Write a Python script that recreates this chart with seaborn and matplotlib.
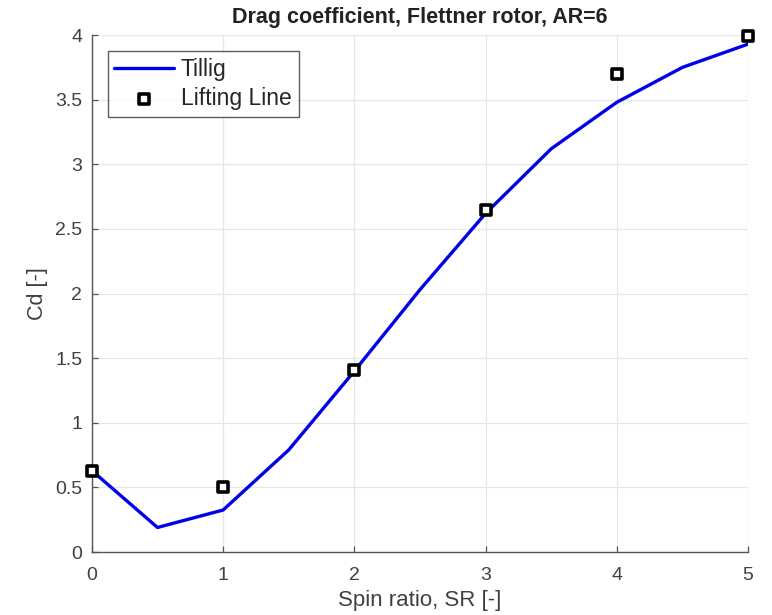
import numpy as np
import pandas as pd
import matplotlib
matplotlib.use("Agg")
import matplotlib.pyplot as plt
import seaborn as sns

tillig_sr = [0, 0.5, 1, 1.5, 2, 2.5, 3, 3.5, 4, 4.5, 5]
tillig_cd = [0.63, 0.19, 0.325, 0.79, 1.40, 2.03, 2.62, 3.12, 3.48, 3.75, 3.93]
ll_sr = [0, 1, 2, 3, 4, 5]
ll_cd = [0.63, 0.50, 1.41, 2.65, 3.70, 3.99]

sns.set_theme(style="white")
plt.rcParams['font.family'] = ['Liberation Sans', 'DejaVu Sans']

fig = plt.figure(figsize=(7.72, 6.15), dpi=100)
ax = fig.add_axes([0.119, 0.1024, 0.850, 0.8406])

df_t = pd.DataFrame({"SR": tillig_sr, "Cd": tillig_cd})
df_l = pd.DataFrame({"SR": ll_sr, "Cd": ll_cd})

sns.lineplot(data=df_t, x="SR", y="Cd", ax=ax, color="#0000e6", linewidth=2.4,
             label="Tillig", zorder=3)
sns.scatterplot(data=df_l, x="SR", y="Cd", ax=ax, marker="s", s=52,
                facecolor="white", edgecolor="black", linewidth=2.6,
                label="Lifting Line", zorder=4, clip_on=False)

ax.set_xlim(0, 5)
ax.set_ylim(0, 4)
ax.set_xticks([0, 1, 2, 3, 4, 5])
ax.set_yticks([0, 0.5, 1, 1.5, 2, 2.5, 3, 3.5, 4])
ax.set_yticklabels(["0", "0.5", "1", "1.5", "2", "2.5", "3", "3.5", "4"])
ax.grid(True, color="#e6e6e6", linewidth=0.9)
for s in ["top", "right"]:
    ax.spines[s].set_visible(False)
for s in ["left", "bottom"]:
    ax.spines[s].set_color("#555555")
    ax.spines[s].set_linewidth(1.0)
ax.tick_params(axis="both", direction="in", length=4, width=0.9, color="#555555",
               labelsize=14, labelcolor="#404040", left=True, bottom=True)
ax.tick_params(axis="y", pad=7)
ax.tick_params(axis="x", pad=11)

ax.set_xlabel("Spin ratio, SR [-]", fontsize=16, color="#404040", labelpad=4)
ax.set_ylabel("Cd [-]", fontsize=15.5, color="#404040", labelpad=5)
ax.set_title("Drag coefficient, Flettner rotor, AR=6", fontsize=15.5, fontweight="bold",
             color="#222222", pad=9)

leg = ax.legend(loc="upper left", bbox_to_anchor=(0.024, 0.969), fontsize=16.5,
                frameon=True, fancybox=False, edgecolor="#333333",
                handlelength=2.6, borderpad=0.3, labelspacing=0.25, handletextpad=0.3,
                borderaxespad=0)
leg.get_frame().set_linewidth(1.0)

fig.savefig("out.png", dpi=100)
